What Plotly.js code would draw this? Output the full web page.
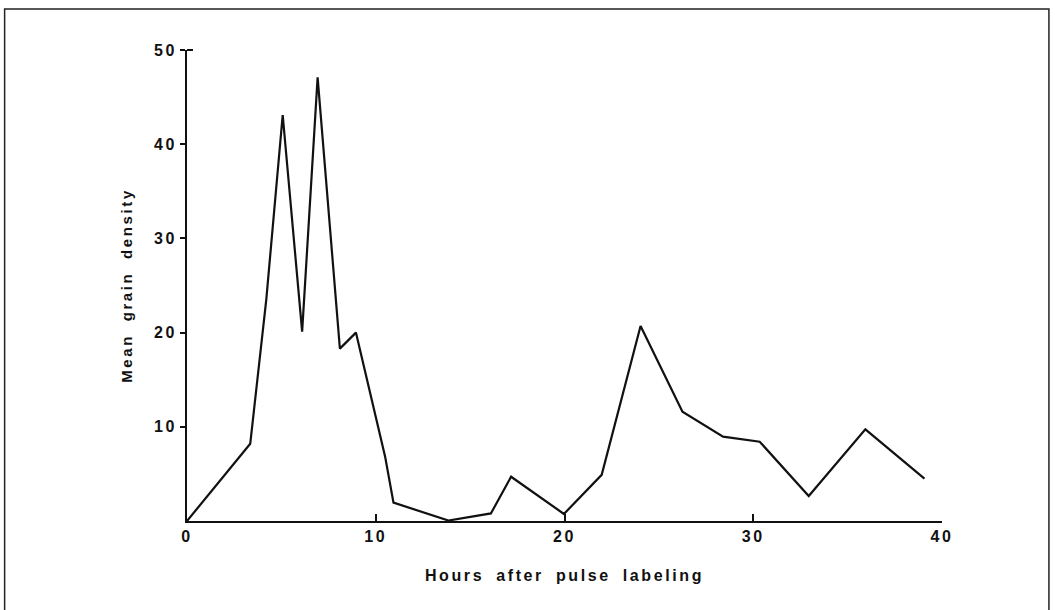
<!DOCTYPE html>
<html>
<head>
<meta charset="utf-8">
<script src="https://cdn.plot.ly/plotly-3.0.1.min.js"></script>
<style>
html,body{margin:0;padding:0;background:#fff;}
#chart{width:1055px;height:610px;}
.xtick text,.ytick text{letter-spacing:2.5px;}
.g-xtitle text{letter-spacing:2.6px;word-spacing:5px;}
.g-ytitle text{letter-spacing:2.6px;word-spacing:6px;}
</style>
</head>
<body>
<div id="chart"></div>
<script>
// Hours after pulse labeling
const hours = [0, 3.35, 4.2, 5.07, 6.1, 6.92, 8.1, 8.95, 10.5, 10.94, 13.85, 16.1, 17.17, 19.97, 21.97, 24.03, 26.25, 28.4, 30.34, 32.94, 35.94, 39.07];
// Mean grain density
const density = [0, 8.2, 23.5, 43.1, 20.1, 47.1, 18.3, 20.0, 6.8, 1.95, 0.05, 0.8, 4.7, 0.75, 4.9, 20.7, 11.6, 8.95, 8.42, 2.65, 9.73, 4.49];
const xTicks = [0, 10, 20, 30, 40];
const yTicks = [10, 20, 30, 40, 50];
const xTitle = 'Hours after pulse labeling';
const yTitle = 'Mean grain density';

const L = 186.5, R = 113, T = 50, B = 89;
const W = 1055, H = 610;
const pw = W - L - R, ph = H - T - B;
const px = v => (v - L) / pw;          // pixel x -> paper x
const py = v => (H - B - v) / ph;      // pixel y -> paper y
const FONT = '"Liberation Sans", Arial, sans-serif';

const trace = {
  x: hours, y: density, type: 'scatter', mode: 'lines',
  line: {color: '#111', width: 2.2}, hoverinfo: 'skip'
};

const layout = {
  width: W, height: H,
  margin: {l: L, r: R, t: T, b: B, pad: 0},
  paper_bgcolor: '#fff', plot_bgcolor: '#fff',
  showlegend: false,
  font: {family: FONT, color: '#111'},
  xaxis: {
    range: [0, 40], tickvals: xTicks, ticktext: xTicks.map(String),
    ticks: 'inside', ticklen: 7, tickwidth: 2, tickcolor: '#111',
    showline: true, linecolor: '#111', linewidth: 2, zeroline: false, showgrid: false,
    tickfont: {size: 16, family: FONT, weight: 'bold'},
    title: {text: xTitle, standoff: 26, font: {size: 16, family: FONT, weight: 'bold'}},
    fixedrange: true
  },
  yaxis: {
    range: [0, 50], tickvals: yTicks, ticktext: yTicks.map(String),
    ticks: 'outside', ticklen: 5, tickwidth: 2, tickcolor: '#111',
    showline: true, linecolor: '#111', linewidth: 2, zeroline: false, showgrid: false,
    tickfont: {size: 16, family: FONT, weight: 'bold'},
    title: {text: yTitle, standoff: 18, font: {size: 15, family: FONT, weight: 'bold'}},
    fixedrange: true
  },
  shapes: [
    // frame around the figure
    {type: 'rect', xref: 'paper', yref: 'paper',
     x0: px(4), x1: px(1049), y0: py(625), y1: py(9),
     line: {color: '#222', width: 1.5}, fillcolor: 'rgba(0,0,0,0)', layer: 'below'},
    // small inward tick at top of y axis
    {type: 'line', xref: 'paper', yref: 'paper',
     x0: 0, x1: px(L + 6), y0: 1, y1: 1, line: {color: '#111', width: 2}}
  ]
};

Plotly.newPlot('chart', [trace], layout, {displayModeBar: false, staticPlot: true});
</script>
</body>
</html>
